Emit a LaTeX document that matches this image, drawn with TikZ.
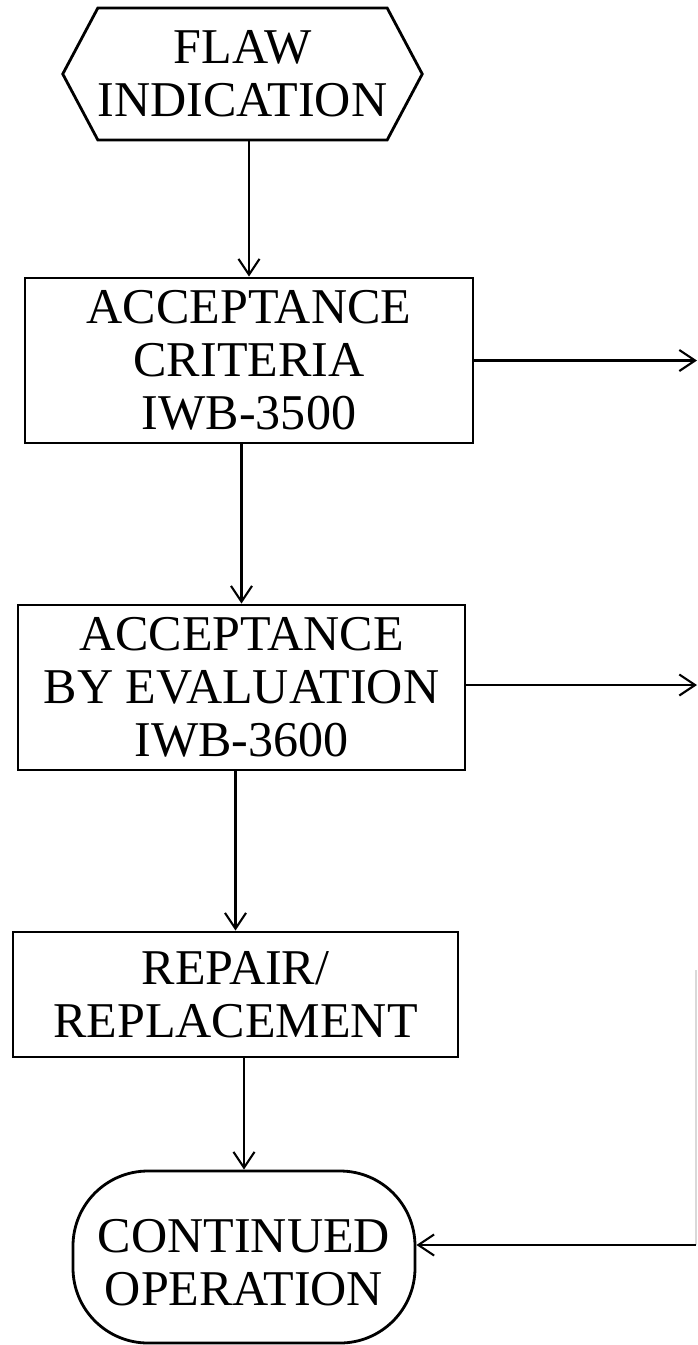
\documentclass[tikz,border=0pt]{standalone}
\usepackage{fontspec}
\setmainfont{Liberation Serif}
\usetikzlibrary{shapes, shapes.symbols, arrows, arrows.meta, positioning, calc}

\begin{document}
\begin{tikzpicture}[line width=1.2pt, >={Straight Barb[length=9pt,width=12pt]}]
	\tikzstyle{stepbox}=[rectangle, draw=black, line width=1.6pt, align=center, inner sep=0pt, font=\fontsize{28.5}{30}\selectfont]
	\tikzstyle{startsig}=[signal, signal from=nowhere, signal to=east and west, signal pointer angle=124, draw=black, line width=1.6pt, align=center, inner sep=0pt, font=\fontsize{28.5}{30}\selectfont]
	\tikzstyle{endbox}=[rectangle, rounded corners=1.5cm, draw=black, line width=1.6pt, align=center, inner sep=0pt, font=\fontsize{28.5}{30}\selectfont]
	\useasboundingbox (0,0) rectangle (13.94,-26.9);
	\node (flaw) at (4.85,-1.48) [startsig, minimum width=6.78cm, minimum height=2.64cm]{FLAW\\INDICATION};
	\node (accept) at (4.98,-7.21) [stepbox, minimum width=8.96cm, minimum height=3.3cm]{ACCEPTANCE\\CRITERIA\\IWB-3500};
	\node (eval) at (4.83,-13.75) [stepbox, minimum width=8.94cm, minimum height=3.3cm]{ACCEPTANCE\\BY EVALUATION\\IWB-3600};
	\node (repair) at (4.71,-19.89) [stepbox, minimum width=8.9cm, minimum height=2.5cm]{REPAIR/\\REPLACEMENT};
	\node (cont) at (4.88,-25.14) [endbox, minimum width=6.84cm, minimum height=3.44cm]{\rule{0pt}{0.9cm}CONTINUED\\OPERATION};
	\coordinate (out1) at (13.94,-7.21);
	\coordinate (out2) at (13.94,-13.7);
	\coordinate (ret1) at (13.92,-19.4);
	\coordinate (ret2) at (13.92,-24.9);

	\draw[->] (accept.north |- flaw.south) -- (accept.north);
	\draw[->] (accept.east) -- (out1);
	\draw[->] (accept.south -| eval.north) -- (eval.north);
	\draw[->] (eval.east |- out2) -- (out2);
	\draw[->] (eval.south -| repair.north) -- (repair.north);
	\draw[->] (repair.south -| cont.north) -- (cont.north);
	\draw[gray!30, line width=0.6pt] (ret1) -- (ret2);
	\draw[->] (ret2) -- (ret2 -| cont.east);
\end{tikzpicture}
\end{document}
